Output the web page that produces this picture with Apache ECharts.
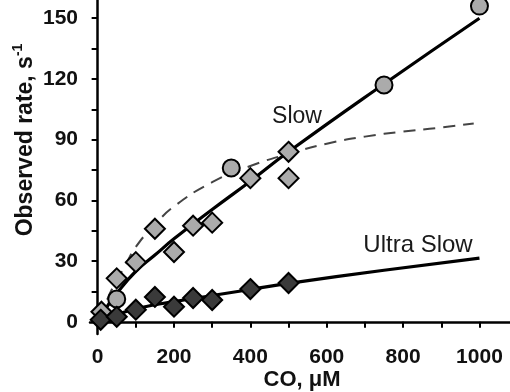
<!DOCTYPE html>
<html><head><meta charset="utf-8">
<script src="https://cdn.jsdelivr.net/npm/echarts@6/dist/echarts.min.js"></script>
<style>html,body{margin:0;padding:0;background:#fff}#c{width:510px;height:392px}</style>
</head><body><div id="c"></div>
<script>
// Data
var slowDiamonds = [[10,5],[50,21.5],[100,29.5],[150,46],[200,34.5],[250,47.5],[300,49],[400,71],[500,84],[500,71]];
var slowCircles = [[50,11.3],[350,76],[750,117],[1000,156]];
var ultraDiamonds = [[8,1],[50,2.5],[100,6],[150,12.3],[200,7.5],[250,11.8],[300,10.8],[400,16.2],[500,19.2]];
var slowFit = [[12,4],[50,14],[100,25],[150,33],[200,41],[300,55.5],[400,69.5],[500,84],[750,117.5],[1000,150]];
var dashedFit = [[25,11],[40,17],[70,27],[100,37],[150,48],[200,57],[300,69],[400,77],[500,83],[600,88],[700,91.5],[800,94],[900,96],[985,98]];
var ultraFit = [[8,0.5],[50,3.5],[100,6.5],[200,10],[300,13],[400,16],[500,19],[750,25.5],[1000,31.5]];
var xTicks = [0,100,200,300,400,500,600,700,800,900,1000];
var xLabels = [0,200,400,600,800,1000];
var yTicks = [0,15,30,45,60,75,90,105,120,135,150];
var yLabels = [0,30,60,90,120,150];

var chart = echarts.init(document.getElementById('c'));
var lblFont = {fontFamily:'Liberation Sans, Arial', fontWeight:'bold', fontSize:21, color:'#111', formatter:function(v){return String(v);}};
chart.setOption({
  animation:false,
  grid:{left:90,right:0,top:0,bottom:58},
  xAxis:{type:'value',min:-20,max:1080,
    axisLine:{lineStyle:{color:'#000',width:2.5}},
    axisTick:{customValues:xTicks,length:6,lineStyle:{color:'#000',width:2}},
    axisLabel:Object.assign({customValues:xLabels,margin:13},lblFont),
    splitLine:{show:false}},
  yAxis:{type:'value',min:-6,max:159,
    axisLine:{show:true,lineStyle:{color:'#000',width:2.5}},
    axisTick:{show:true,customValues:yTicks,length:6,lineStyle:{color:'#000',width:2}},
    axisLabel:Object.assign({customValues:yLabels,margin:12},lblFont),
    splitLine:{show:false}},
  series:[
    {type:'line',data:dashedFit,smooth:true,symbol:'none',z:2,lineStyle:{color:'#444',width:2,type:[12,8]}},
    {type:'line',data:slowFit,smooth:true,symbol:'none',z:3,lineStyle:{color:'#000',width:3.2}},
    {type:'line',data:ultraFit,smooth:true,symbol:'none',z:3,lineStyle:{color:'#000',width:3.2}},
    {type:'scatter',data:slowDiamonds,symbol:'diamond',symbolSize:[20,20],z:4,itemStyle:{color:'#ababab',borderColor:'#000',borderWidth:2,opacity:1}},
    {type:'scatter',data:slowCircles,symbol:'circle',symbolSize:17,z:4,itemStyle:{color:'#ababab',borderColor:'#000',borderWidth:2,opacity:1}},
    {type:'scatter',data:ultraDiamonds,symbol:'diamond',symbolSize:[20,20],z:5,itemStyle:{color:'#3a3a3a',borderColor:'#000',borderWidth:2,opacity:1}}
  ],
  graphic:[
    {type:'text',x:297,y:117,style:{text:'Slow',font:'23px Liberation Sans, Arial',fill:'#1a1a1a',textAlign:'center',textVerticalAlign:'middle'}},
    {type:'text',x:418,y:245,style:{text:'Ultra Slow',font:'24px Liberation Sans, Arial',fill:'#1a1a1a',textAlign:'center',textVerticalAlign:'middle'}},
    {type:'text',x:302,y:380,style:{text:'CO, \u03BCM',font:'bold 22px Liberation Sans, Arial',fill:'#111',textAlign:'center',textVerticalAlign:'middle'}},
    {type:'text',x:24,y:140,rotation:Math.PI/2,style:{text:'{a|Observed rate, s}{b|-1}',textAlign:'center',textVerticalAlign:'middle',
      rich:{a:{fontFamily:'Liberation Sans, Arial',fontWeight:'bold',fontSize:23,fill:'#111',color:'#111',verticalAlign:'bottom'},
            b:{fontFamily:'Liberation Sans, Arial',fontWeight:'bold',fontSize:14,fill:'#111',color:'#111',verticalAlign:'top',padding:[0,0,12,0]}}}}
  ]
});
</script></body></html>
